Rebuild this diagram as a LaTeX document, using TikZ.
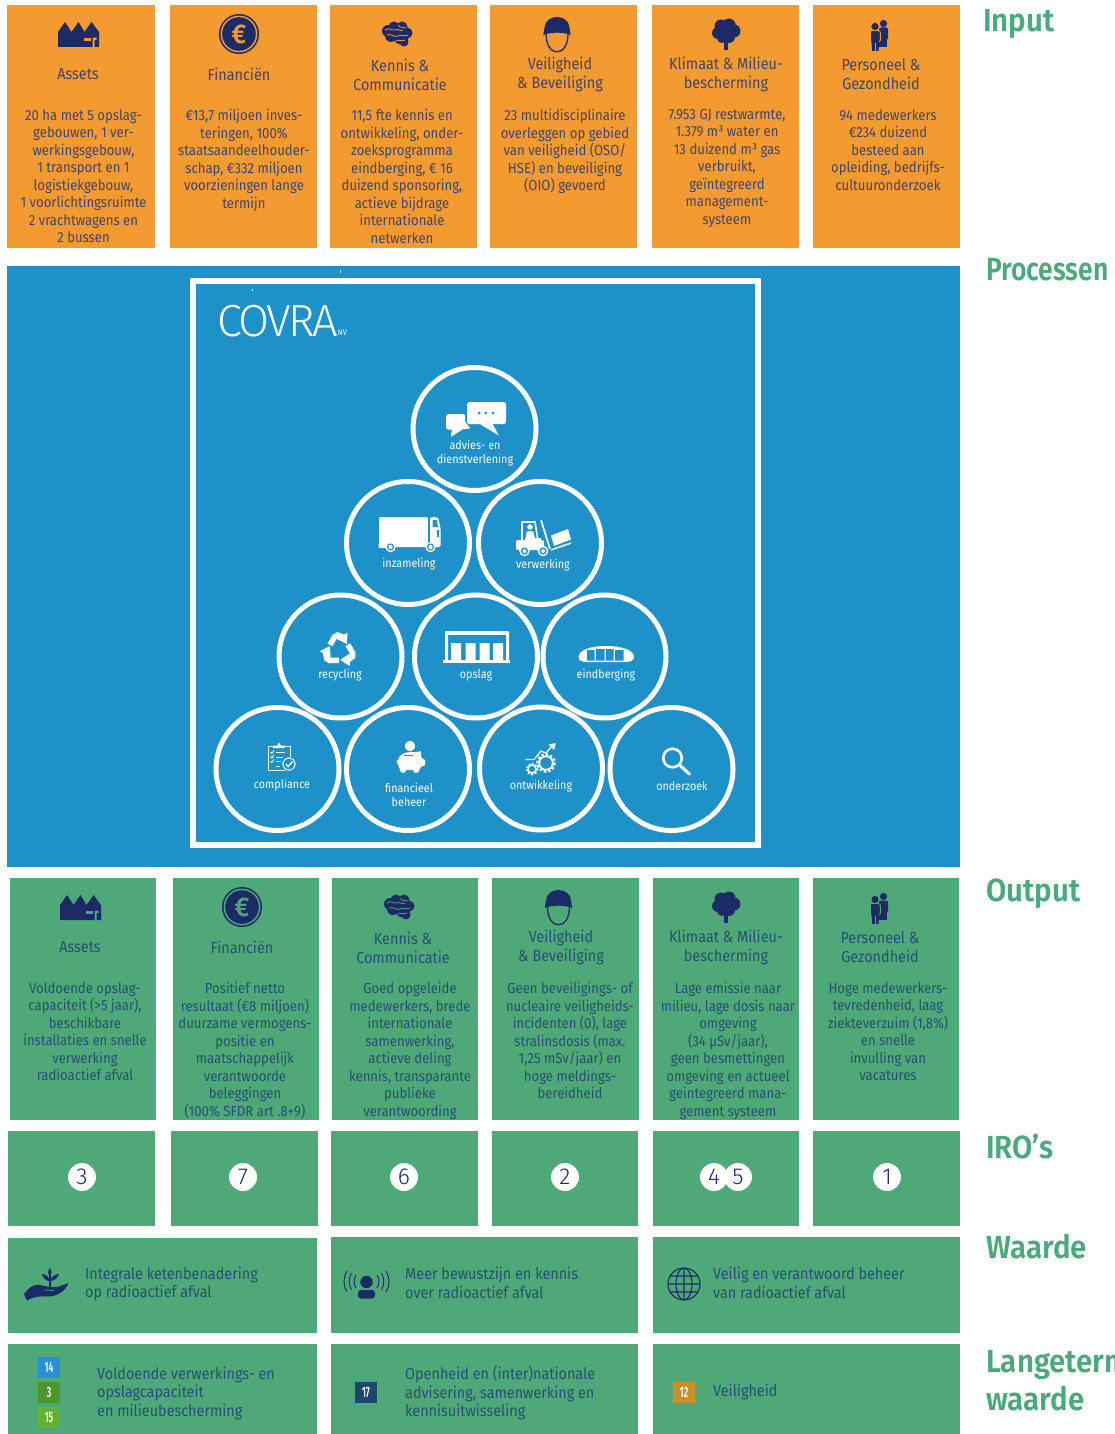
\documentclass[tikz,border=0pt]{standalone}
\usepackage{fontspec}
\usepackage{graphicx}
\usetikzlibrary{arrows.meta}
\setmainfont{Fira Sans}[FakeStretch=0.9]
\newfontfamily\headfont{Fira Sans}[UprightFont={* SemiBold},FakeStretch=0.92]
\newfontfamily\logofont{Fira Sans}[UprightFont={* Light},LetterSpace=-6]
\newfontfamily\numfont{Fira Sans}[UprightFont={* Light}]
\definecolor{cOrange}{HTML}{F39A30}
\definecolor{cBlue}{HTML}{1E91C8}
\definecolor{cGreen}{HTML}{4EA878}
\definecolor{cHead}{HTML}{4BA97C}
\definecolor{cNavy}{HTML}{1C2A66}
\definecolor{cTextO}{HTML}{44446A}
\definecolor{cTextG}{HTML}{265070}
\newcommand{\sdgnum}[1]{\scalebox{.78}[1.25]{#1}}
\tikzset{
  panel/.style={rectangle,inner sep=0pt,outer sep=0pt,draw=none,fill=#1},
  ttl/.style={inner sep=0pt,align=center,font=\fontsize{16}{19}\selectfont},
  bodytxt/.style={inner sep=0pt,anchor=north,align=center,font=\fontsize{14.6}{17.5}\selectfont},
  headlabel/.style={inner sep=0pt,anchor=west,align=left,text=cHead,font=\headfont\fontsize{32}{38}\selectfont},
  ring/.style={circle,draw=white,line width=5pt,minimum size=123pt,inner sep=0pt},
  ringtxt/.style={inner sep=0pt,text=white,align=center,font=\fontsize{12}{14}\selectfont},
  numdisc/.style={circle,fill=white,minimum size=28pt,inner sep=0pt,text=cNavy,font=\numfont\fontsize{23}{23}\selectfont},
  sdg/.style={rectangle,minimum size=21.5pt,inner sep=0pt,text=white,font=\headfont\fontsize{12}{12}\selectfont},
  valtxt/.style={inner sep=0pt,anchor=west,align=left,text=cTextG,font=\fontsize{16}{18.5}\selectfont},
  iconfactory/.pic={
    \fill[cNavy] (-20.5,12)--(-20.5,-3)--(-13.5,-13)--(-7,-3)--(0,-13)--(6,-3)--(13,-13)--(20.5,-3)--(20.5,12)--cycle;
    \fill[iconbg] (5.3,2.7) rectangle (12,5.7);
    \fill[iconbg] (14,2.7) rectangle (18,5) (14,2.7) rectangle (16.2,12);
  },
  iconeuro/.pic={
    \fill[cNavy] (0,0) circle (20);
    \fill[iconbg] (0,0) circle (18.4);
    \fill[cNavy] (0,0) circle (16.8);
    \node[inner sep=0pt,text=iconbg,font=\headfont\fontsize{27}{27}\selectfont] (-pe) at (0,0) {€};
  },
  iconbrain/.pic={
    \fill[cNavy] (-9,-3) circle (6) (-3,-7) circle (5.5) (5,-7) circle (5.5) (10,-1) circle (5.5) (4,3) circle (7.5) (-6,2) circle (6) (7,8) circle (4.5);
    \draw[iconbg,line width=.8pt,line cap=round] (-12,-4) .. controls (-8,-7) and (-5,-3) .. (-2,-4) .. controls (1,-6) and (3,-2) .. (6,-4)
      (-10,1) .. controls (-6,-1) and (-3,4) .. (1,2) .. controls (4,0) and (7,3) .. (11,1)
      (2,-9) .. controls (1,-6) and (6,-7) .. (9,-6) (-1,7) .. controls (2,5) and (5,8) .. (8,6);
  },
  iconhelmet/.pic={
    \draw[cNavy,line width=1.3pt] (-11,-1) .. controls (-11,11) and (-6,17.3) .. (0,17.3) .. controls (6,17.3) and (11,11) .. (11,-1);
    \fill[cNavy] (-13.7,0.5) -- (-12.5,-7) .. controls (-12,-14) and (-6,-17.5) .. (0,-17.5) .. controls (6,-17.5) and (12,-14) .. (12.5,-7) -- (13.7,0.5) .. controls (6,-2.6) and (-6,-2.6) .. (-13.7,0.5) -- cycle;
  },
  icontree/.pic={
    \fill[cNavy] (-5,-8) circle (6.5) (3,-9) circle (6.5) (8,-3) circle (6.5) (-8,-1) circle (6) (0,-3) circle (8) (3,3) circle (6) (-4,4) circle (5);
    \fill[cNavy] (-1.7,0) rectangle (1.7,16);
  },
  iconpeople/.pic={
    \fill[cNavy] (4.5,-11.5) circle (3.6);
    \fill[cNavy,rounded corners=2pt] (0,-7.5) rectangle (9,5);
    \fill[cNavy] (0,0) rectangle (7.5,12);
    \fill[cNavy] (-4,-8.5) circle (3.6);
    \draw[iconbg,line width=.9pt,fill=cNavy,rounded corners=2pt] (-8.7,-4.5) rectangle (1.3,7);
    \fill[cNavy] (-8,0) -- (0.5,0) -- (-.5,16) -- (-6.8,16) -- cycle;
    \draw[iconbg,line width=.7pt] (-3.7,8) -- (-3.7,16);
  },
}
\begin{document}
\begin{tikzpicture}[x=1pt,y=-1pt]
\useasboundingbox (0,0) rectangle (1114,1434);
\fill[white] (0,0) rectangle (1114,1434);
% ---------- input row
\node[panel=cOrange,minimum width=148pt,minimum height=243pt] (in1) at (81,126.5) {};
\node[panel=cOrange,minimum width=147pt,minimum height=243pt] (in2) at (243.5,126.5) {};
\node[panel=cOrange,minimum width=147pt,minimum height=243pt] (in3) at (403.5,126.5) {};
\node[panel=cOrange,minimum width=147pt,minimum height=243pt] (in4) at (563.5,126.5) {};
\node[panel=cOrange,minimum width=147pt,minimum height=243pt] (in5) at (725.5,126.5) {};
\node[panel=cOrange,minimum width=147pt,minimum height=243pt] (in6) at (886.5,126.5) {};
\colorlet{iconbg}{cOrange}
\pic (ia) at (78.5,35) {iconfactory};
\pic (ib) at (239,34) {iconeuro};
\pic (ic) at (397,34) {iconbrain};
\pic (id) at (557,34.5) {iconhelmet};
\pic (ie) at (726,34) {icontree};
\pic (if) at (879,35) {iconpeople};
\begin{scope}[every node/.append style={text=cTextO}]
\node[ttl] (t1) at (78,74) {Assets};
\node[ttl] (t2) at (239,74) {Financiën};
\node[ttl] (t3) at (400,74.5) {Kennis \&\\Communicatie};
\node[ttl] (t4) at (560,74.5) {Veiligheid\\\& Beveiliging};
\node[ttl] (t5) at (726,74.5) {Klimaat \& Milieu-\\bescherming};
\node[ttl] (t6) at (881,74.5) {Personeel \&\\Gezondheid};
\node[bodytxt] (b1) at (83.5,109) {20 ha met 5 opslag-\\gebouwen, 1 ver-\\werkingsgebouw,\\1 transport en 1\\logistiekgebouw,\\1 voorlichtingsruimte\\2 vrachtwagens en\\2 bussen};
\node[bodytxt] (b2) at (244,109) {€13,7 miljoen inves-\\teringen, 100\%\\staatsaandeelhouder-\\schap, €332 miljoen\\voorzieningen lange\\termijn};
\node[bodytxt] (b3) at (402,109) {11,5 fte kennis en\\ontwikkeling, onder-\\zoeksprogramma\\eindberging, € 16\\duizend sponsoring,\\actieve bijdrage\\internationale\\netwerken};
\node[bodytxt] (b4) at (565,109) {23 multidisciplinaire\\overleggen op gebied\\van veiligheid (OSO/\\HSE) en beveiliging\\(OIO) gevoerd};
\node[bodytxt] (b5) at (727,109) {7.953 GJ restwarmte,\\1.379 m³ water en\\13 duizend m³ gas\\verbruikt,\\geïntegreerd\\management-\\systeem};
\node[bodytxt] (b6) at (888,109) {94 medewerkers\\€234 duizend\\besteed aan\\opleiding, bedrijfs-\\cultuuronderzoek};
\end{scope}
% ---------- process panel
\node[panel=cBlue,minimum width=953pt,minimum height=601pt] (proc) at (483.5,566.5) {};
\draw[white,line width=.8pt] (340,269.5) -- (340,272.5) (252,288.5) -- (252,291);
\node[rectangle,draw=white,line width=6pt,fill=none,minimum width=565pt,minimum height=564pt,inner sep=0pt] (frame) at (475.5,563) {};
\node[inner sep=0pt,anchor=west,text=white,font=\logofont\fontsize{45}{45}\selectfont] (logo) at (217,321) {COVRA};
\node[inner sep=0pt,anchor=base west,text=white,font=\fontsize{8}{8}\selectfont] (logonv) at (336,335) {.NV};
\node[ring] (c1) at (474.5,429) {};
\node[ring] (c2) at (408,543) {};
\node[ring] (c3) at (540,543) {};
\node[ring] (c4) at (340.5,656.5) {};
\node[ring] (c5) at (476,656.5) {};
\node[ring] (c6) at (604.5,656.5) {};
\node[ring] (c7) at (277.5,769) {};
\node[ring] (c8) at (408,769) {};
\node[ring] (c9) at (541,768.5) {};
\node[ring] (c10) at (671.5,769) {};
\node[ringtxt] (l1) at (475,453.5) {advies- en\\dienstverlening};
\node[ringtxt] (l2) at (409,564) {inzameling};
\node[ringtxt] (l3) at (543,565.5) {verwerking};
\node[ringtxt] (l4) at (340,675) {recycling};
\node[ringtxt] (l5) at (476,675) {opslag};
\node[ringtxt] (l6) at (606,675) {eindberging};
\node[ringtxt] (l7) at (282,785) {compliance};
\node[ringtxt] (l8) at (409,794.5) {financieel\\beheer};
\node[ringtxt] (l9) at (541,786.5) {ontwikkeling};
\node[ringtxt] (l10) at (682,786.5) {onderzoek};
% chat
\fill[white,rounded corners=1.5pt] (467,402) rectangle (506,424);
\fill[white] (478,423) -- (499,435.5) -- (492,423) -- cycle;
\fill[cBlue] (479,413) circle (1.5) (485.5,413) circle (1.5) (493,413) circle (1.5);
\fill[white,rounded corners=1.5pt] (446,414) -- (465,414) -- (465,422) -- (471,428.5) -- (460,429.5) -- (446,429.5) -- cycle;
\fill[white] (452,428) -- (451,437) -- (463,429) -- cycle;
% truck
\fill[white] (378.5,517) rectangle (428,545);
\fill[white] (378.5,544) rectangle (387,548) (395,544) rectangle (426,547);
\fill[white,rounded corners=1.5pt] (430,517) -- (438,517) -- (440.5,528) -- (440.5,547) -- (430,547) -- cycle;
\fill[cBlue] (432.5,520) -- (437,520) -- (438,527) -- (432.5,527) -- cycle;
\fill[cBlue] (437,530) rectangle (439,537);
\fill[white] (390.5,547) circle (5.2) (430.5,547) circle (5.2);
\fill[cBlue] (390.5,547) circle (3.6) (430.5,547) circle (3.6);
\fill[white] (390.5,547) circle (2.2) (430.5,547) circle (2.2);
% forklift
\draw[white,line width=1.6pt] (522,541) -- (522,522) -- (535,522) -- (538,541);
\fill[white] (530,527) circle (2.8);
\fill[white] (525,540) -- (527,531) -- (533,531) -- (535,538) -- (541,538) -- (541,541) -- cycle;
\fill[white,rounded corners=2pt] (516,540) rectangle (544,550);
\draw[white,line width=1.7pt] (541,520) -- (550,549);
\draw[white,line width=1.5pt] (551,550) -- (571,543);
\fill[white] (551,535.5) -- (568,529) -- (571,539.5) -- (554,546) -- cycle;
\fill[white] (524.5,551) circle (5.3) (543,551) circle (5.3);
\fill[cBlue] (524.5,551) circle (3.6) (543,551) circle (3.6);
\fill[white] (524.5,551) circle (2) (543,551) circle (2);
% recycling
\foreach \a in {0,120,240}{
  \begin{scope}[shift={(339,650)},rotate=\a]
    \draw[white,line width=5.5pt,rounded corners=2pt] (-9,-5) -- (-3.5,-15) -- (1,-15) -- (3,-13);
    \fill[white] (8.5,-17.5) -- (-2.4,-11) -- (8,-6) -- cycle;
  \end{scope}
}
% warehouse
\fill[white] (445,631) rectangle (509,634.5);
\fill[white] (445,631) rectangle (448,660) (506,631) rectangle (509,660);
\fill[white] (451,643) rectangle (461,660) (465.5,643) rectangle (475.5,660) (479.5,643) rectangle (489.5,660) (493,643) rectangle (503,660);
\fill[white] (443,659.5) rectangle (510,663);
% dome
\fill[white] (578.5,657) .. controls (579,650) and (590,646) .. (606,646) .. controls (622,646) and (634,650) .. (634,657) .. controls (634,661) and (630,662) .. (624,662) -- (587,662) .. controls (581,662) and (578.5,660) .. (578.5,657) -- cycle;
\fill[cBlue] (587,650) rectangle (594.5,660.5) (596,649) rectangle (604.5,660.5) (606,649) rectangle (613.5,660.5) (615,650) rectangle (623.5,660.5);
% clipboard
\draw[white,line width=1pt] (268,746.5) rectangle (290,770);
\fill[white] (273,748) -- (273,745.5) -- (277,745.5) -- (279,742.5) -- (281,745.5) -- (284.5,745.5) -- (284.5,748) -- cycle;
\draw[white,line width=1pt] (276,752.5) -- (285,752.5) (276,757) -- (283,757) (276,761.5) -- (281,761.5) (276,766) -- (280,766);
\draw[white,line width=.9pt] (270.5,752) -- (271.8,753.5) -- (274,750.5) (270.5,756.5) -- (271.8,758) -- (274,755) (270.5,761) -- (271.8,762.5) -- (274,759.5);
\fill[cBlue] (289,764) circle (7.5);
\draw[white,line width=1.1pt] (289,764) circle (6);
\draw[white,line width=1.4pt] (285.8,764) -- (288.2,766.5) -- (292.5,761.5);
% piggy
\fill[white] (410,746) circle (5.3);
\fill[white] (398,760) .. controls (399,755) and (404,752) .. (411,752) .. controls (415,752) and (418,753) .. (421,751) -- (421,757) -- (425,760) -- (425,765) -- (421,767) -- (418,772.5) -- (414,772.5) -- (413,770) -- (406,770) -- (405,772.5) -- (401,772.5) -- (399,767) -- (396.5,761) -- cycle;
\draw[cBlue,line width=1pt] (404,755.5) -- (413,755.5);
% growth and gears
\draw[white,line width=1.3pt] (525,759.5) -- (534,759.5) -- (541,751) -- (546,753) -- (552,746);
\fill[white] (556,743) -- (548.5,744.5) -- (554,750) -- cycle;
\draw[white,line width=2.6pt,dash pattern=on 2.4pt off 2pt] (546,763) circle (8.5);
\draw[white,line width=1.8pt] (546,763) circle (6.8);
\draw[white,line width=2.2pt,dash pattern=on 1.8pt off 1.6pt] (532,769) circle (5.2);
\draw[white,line width=1.4pt] (532,769) circle (4);
% magnifier
\draw[white,line width=2.6pt] (672.5,758) circle (9.3);
\draw[white,line width=3.2pt,line cap=round] (679.5,765) -- (689.5,774);
% ---------- output row
\node[panel=cGreen,minimum width=146pt,minimum height=242pt] (ou1) at (83,999) {};
\node[panel=cGreen,minimum width=146pt,minimum height=242pt] (ou2) at (246,999) {};
\node[panel=cGreen,minimum width=146pt,minimum height=242pt] (ou3) at (405,999) {};
\node[panel=cGreen,minimum width=147pt,minimum height=242pt] (ou4) at (565.5,999) {};
\node[panel=cGreen,minimum width=146pt,minimum height=242pt] (ou5) at (726,999) {};
\node[panel=cGreen,minimum width=146pt,minimum height=242pt] (ou6) at (886,999) {};
\colorlet{iconbg}{cGreen}
\pic (oa) at (80.5,908) {iconfactory};
\pic (ob) at (242,907) {iconeuro};
\pic (oc) at (399,907) {iconbrain};
\pic (od) at (558.5,907.5) {iconhelmet};
\pic (oe) at (726,907) {icontree};
\pic (of) at (879,908) {iconpeople};
\begin{scope}[every node/.append style={text=cTextG}]
\node[ttl] (p1) at (80,947) {Assets};
\node[ttl] (p2) at (242,947) {Financiën};
\node[ttl] (p3) at (403,947.5) {Kennis \&\\Communicatie};
\node[ttl] (p4) at (561,947.5) {Veiligheid\\\& Beveiliging};
\node[ttl] (p5) at (726,947.5) {Klimaat \& Milieu-\\bescherming};
\node[ttl] (p6) at (880,947.5) {Personeel \&\\Gezondheid};
\node[bodytxt] (q1) at (85,982) {Voldoende opslag-\\capaciteit (>5 jaar),\\beschikbare\\installaties en snelle\\verwerking\\radioactief afval};
\node[bodytxt] (q2) at (245,982) {Positief netto\\resultaat (€8 miljoen)\\duurzame vermogens-\\positie en\\maatschappelijk\\verantwoorde\\beleggingen\\(100\% SFDR art .8+9)};
\node[bodytxt] (q3) at (410,982) {Goed opgeleide\\medewerkers, brede\\internationale\\samenwerking,\\actieve deling\\kennis, transparante\\publieke\\verantwoording};
\node[bodytxt] (q4) at (570,982) {Geen beveiligings- of\\nucleaire veiligheids-\\incidenten (0), lage\\stralinsdosis (max.\\1,25 mSv/jaar) en\\hoge meldings-\\bereidheid};
\node[bodytxt] (q5) at (728,982) {Lage emissie naar\\milieu, lage dosis naar\\omgeving\\(34 µSv/jaar),\\geen besmettingen\\omgeving en actueel\\geintegreerd mana-\\gement systeem};
\node[bodytxt] (q6) at (888,982) {Hoge medewerkers-\\tevredenheid, laag\\ziekteverzuim (1,8\%)\\en snelle\\invulling van\\vacatures};
\end{scope}
% ---------- IRO row
\node[panel=cGreen,minimum width=147pt,minimum height=95pt] (ir1) at (81.5,1178.5) {};
\node[panel=cGreen,minimum width=147pt,minimum height=95pt] (ir2) at (244,1178.5) {};
\node[panel=cGreen,minimum width=147pt,minimum height=95pt] (ir3) at (404.5,1178.5) {};
\node[panel=cGreen,minimum width=146pt,minimum height=95pt] (ir4) at (565,1178.5) {};
\node[panel=cGreen,minimum width=146pt,minimum height=95pt] (ir5) at (726,1178.5) {};
\node[panel=cGreen,minimum width=147pt,minimum height=95pt] (ir6) at (886.5,1178.5) {};
\node[numdisc] (n3) at (82,1177) {3};
\node[numdisc] (n7) at (243,1177) {7};
\node[numdisc] (n6) at (404,1177) {6};
\node[numdisc] (n2) at (565,1177) {2};
\node[numdisc] (n4) at (714,1177) {};
\node[numdisc] (n5) at (738,1177) {};
\node[inner sep=0pt,text=cNavy,font=\numfont\fontsize{23}{23}\selectfont] (n4t) at (714,1177) {4};
\node[inner sep=0pt,text=cNavy,font=\numfont\fontsize{23}{23}\selectfont] (n5t) at (738,1177) {5};
\node[numdisc] (n1) at (887,1177) {1};
% ---------- Waarde row
\node[panel=cGreen,minimum width=309pt,minimum height=95pt] (wa1) at (162.5,1285.5) {};
\node[panel=cGreen,minimum width=307pt,minimum height=96pt] (wa2) at (484.5,1285) {};
\node[panel=cGreen,minimum width=307pt,minimum height=96pt] (wa3) at (806.5,1285) {};
\node[valtxt] (v1) at (85,1284) {Integrale ketenbenadering\\op radioactief afval};
\node[valtxt] (v2) at (405,1283) {Meer bewustzijn en kennis\\over radioactief afval};
\node[valtxt] (v3) at (713,1283) {Veilig en verantwoord beheer\\van radioactief afval};
% hand and plant
\fill[cNavy] (24,1294) .. controls (30,1285) and (38,1283) .. (44,1286) -- (52,1287) .. controls (56,1288) and (60,1286) .. (68.5,1283) .. controls (65,1292) and (56,1297) .. (46,1296.5) .. controls (38,1296) and (33,1297) .. (27,1300.5) -- cycle;
\draw[cGreen,line width=.8pt] (45,1290) -- (54,1290.5);
\draw[cNavy,line width=1.4pt] (50,1287) -- (50,1273);
\fill[cNavy] (50,1268) .. controls (47.5,1271) and (47.5,1274) .. (50,1276) .. controls (52,1274) and (52,1271) .. (50,1268) -- cycle;
\fill[cNavy] (50,1281) .. controls (46,1281) and (43,1278) .. (42,1274) .. controls (46,1274) and (49,1277) .. (50,1281) -- cycle;
\fill[cNavy] (50,1281) .. controls (54,1281) and (58,1278) .. (59,1274) .. controls (55,1274) and (51,1277) .. (50,1281) -- cycle;
% broadcast person
\fill[cNavy] (366.5,1282) circle (6.2);
\fill[cNavy,rounded corners=3pt] (358,1298.5) -- (358,1290) -- (375,1290) -- (375,1298.5) -- cycle;
\draw[cNavy,line width=.9pt] (356,1275) .. controls (353.5,1279) and (353.5,1284) .. (356,1288) (351.5,1273) .. controls (348.5,1278) and (348.5,1285) .. (351.5,1290) (347,1271) .. controls (343,1277) and (343,1286) .. (347,1292);
\draw[cNavy,line width=.9pt] (377,1275) .. controls (379.5,1279) and (379.5,1284) .. (377,1288) (381.5,1273) .. controls (384.5,1278) and (384.5,1285) .. (381.5,1290) (386,1271) .. controls (390,1277) and (390,1286) .. (386,1292);
% globe
\draw[cNavy,line width=1.1pt] (684,1284) circle (16) (684,1284) ellipse (8 and 16) (684,1268) -- (684,1300) (668,1284) -- (700,1284) (670.5,1276) -- (697.5,1276) (670.5,1292) -- (697.5,1292);
% ---------- Langetermijn row
\node[panel=cGreen,minimum width=309pt,minimum height=90pt] (la1) at (162.5,1389) {};
\node[panel=cGreen,minimum width=307pt,minimum height=90pt] (la2) at (484.5,1389) {};
\node[panel=cGreen,minimum width=307pt,minimum height=90pt] (la3) at (806.5,1389) {};
\node[sdg,fill={rgb,255:red,42;green,143;blue,214}] (s14) at (49,1367.5) {\sdgnum{14}};
\node[sdg,fill={rgb,255:red,76;green,151;blue,45}] (s3) at (49,1392.5) {\sdgnum{3}};
\node[sdg,fill={rgb,255:red,100;green,178;blue,48}] (s15) at (49,1417.5) {\sdgnum{15}};
\node[sdg,fill={rgb,255:red,25;green,72;blue,106}] (s17) at (366,1392.5) {\sdgnum{17}};
\node[sdg,fill={rgb,255:red,207;green,141;blue,42}] (s12) at (684,1392.5) {\sdgnum{12}};
\node[valtxt] (w1) at (97,1393) {Voldoende verwerkings- en\\opslagcapaciteit\\en milieubescherming};
\node[valtxt] (w2) at (405,1393) {Openheid en (inter)nationale\\advisering, samenwerking en\\kennisuitwisseling};
\node[valtxt] (w3) at (713,1392) {Veiligheid};
% ---------- section labels
\node[headlabel] (h1) at (983,23.5) {Input};
\node[headlabel] (h2) at (986,270) {\scalebox{.9}[1]{Processen}};
\node[headlabel] (h3) at (986,893.5) {Output};
\node[headlabel] (h4) at (986,1147) {IRO’s};
\node[headlabel] (h5) at (986,1247) {Waarde};
\node[headlabel] (h6) at (986,1379) {Langetermijn\\waarde};
\end{tikzpicture}
\end{document}
